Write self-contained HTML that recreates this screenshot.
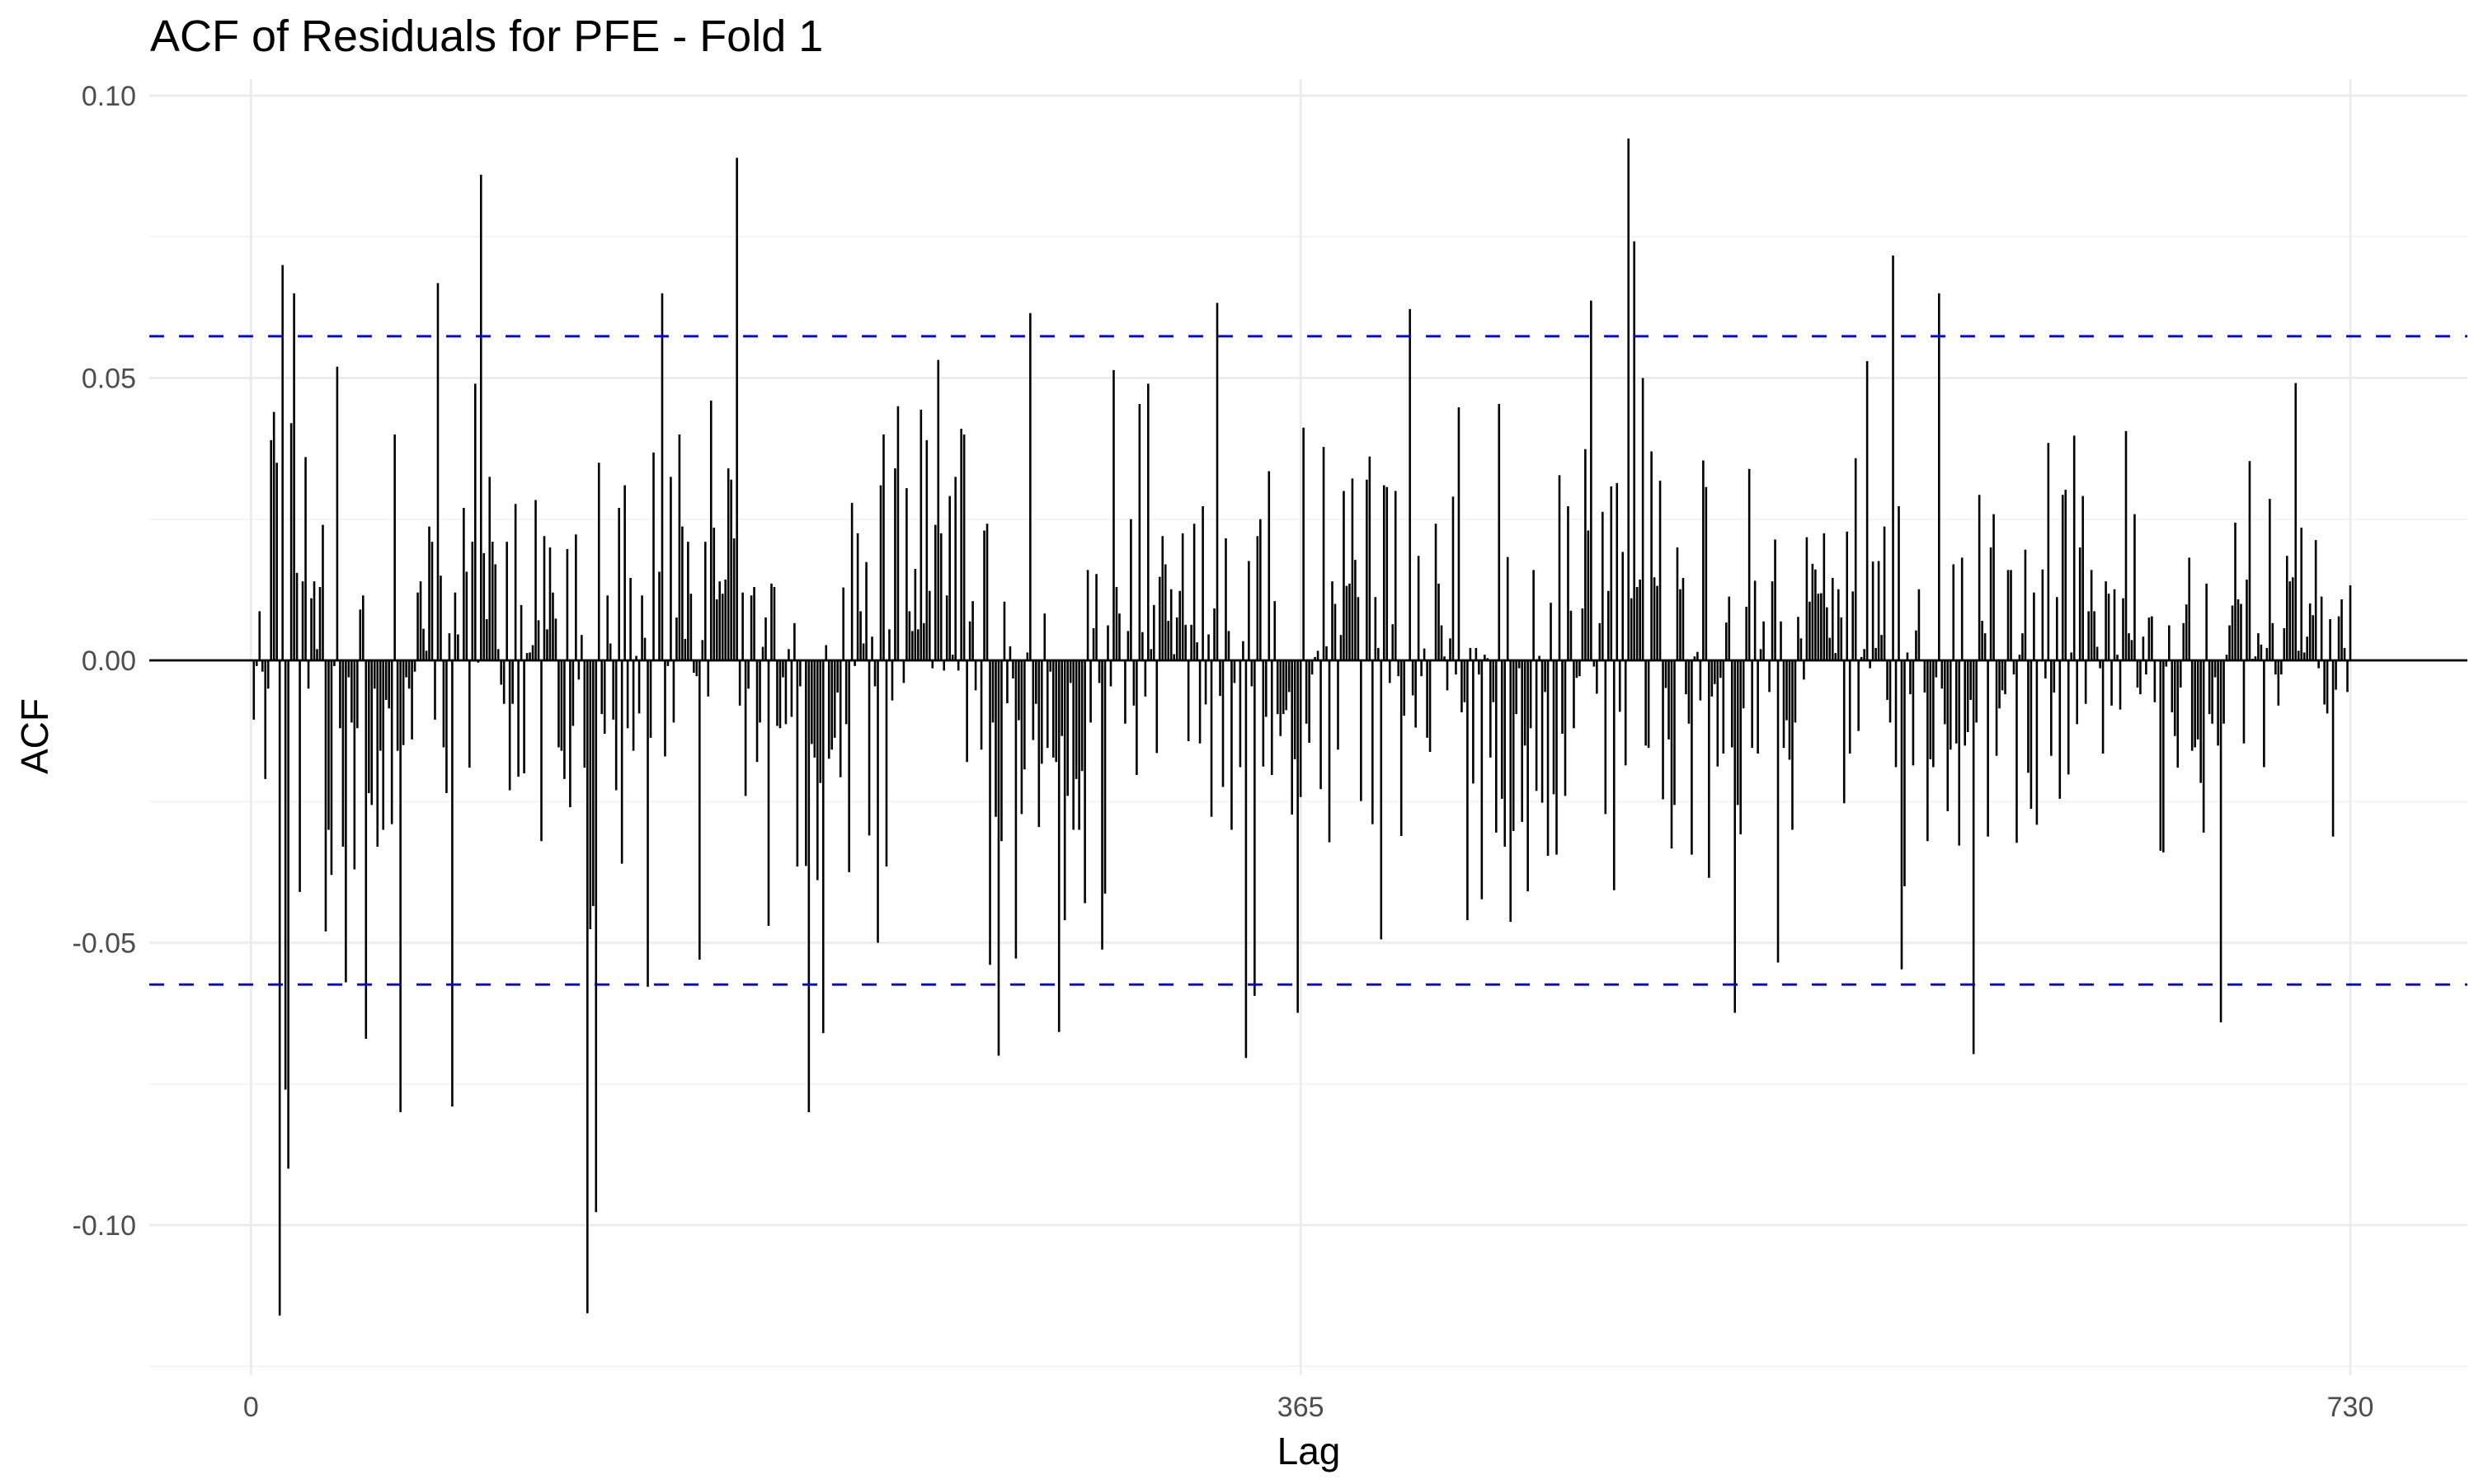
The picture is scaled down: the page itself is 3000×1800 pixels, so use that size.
<!DOCTYPE html>
<html><head><meta charset="utf-8"><style>
html,body{margin:0;padding:0;background:#fff;}
svg{display:block;font-family:"Liberation Sans",Arial,sans-serif;}
</style></head><body>
<svg id="chart" width="3000" height="1800" viewBox="0 0 3000 1800">
<text x="182" y="62" font-size="54" fill="#000">ACF of Residuals for PFE - Fold 1</text>
<g id="grid"></g>
<g id="bars"></g>
<g id="lines"></g>
<g id="axes"></g>
<text x="1587" y="1776" font-size="46" text-anchor="middle" fill="#000">Lag</text>
<text transform="translate(58,893) rotate(-90)" font-size="46" text-anchor="middle" fill="#000">ACF</text>
</svg>
<script>
const acfValues = [
-0.0105,-0.001,0.0087,-0.002,-0.021,-0.005,0.039,0.044,0.035,-0.116,
0.070,-0.076,-0.090,0.042,0.065,0.0155,-0.041,0.014,0.036,-0.005,
0.011,0.014,0.002,0.013,0.024,-0.048,-0.030,-0.038,-0.001,0.052,
-0.012,-0.033,-0.057,-0.003,-0.011,-0.037,-0.012,0.009,0.0115,-0.067,
-0.0235,-0.0256,-0.005,-0.033,-0.016,-0.030,-0.007,-0.0085,-0.029,0.040,
-0.016,-0.080,-0.015,-0.003,-0.005,-0.014,-0.002,0.012,0.014,0.0056,
0.0017,0.0237,0.021,-0.0105,0.0668,0.015,-0.0154,-0.0235,0.0048,-0.079,
0.012,0.0046,0.000,0.027,0.0157,-0.019,0.021,0.049,-0.0004,0.086,
0.019,0.0073,0.0325,0.021,0.017,0.002,-0.0043,-0.0077,0.021,-0.023,
-0.0077,0.0277,-0.0206,0.0098,-0.020,0.0013,0.0014,0.0027,0.0284,0.0071,
-0.032,0.022,0.0055,0.020,0.012,0.0074,-0.0154,-0.016,-0.021,0.0197,
-0.026,-0.0116,0.0223,-0.0034,0.0045,-0.019,-0.1156,-0.0476,-0.0435,-0.0977,
0.035,
-0.0095,-0.013,0.0115,0.003,-0.0105,-0.023,0.027,-0.036,0.031,-0.012,
0.0146,-0.016,0.0008,-0.0094,0.0115,0.004,-0.0578,-0.0137,0.0368,0.000,
0.0157,0.065,-0.017,-0.001,0.0325,-0.011,0.0076,0.040,0.0237,0.0038,
0.021,0.0118,-0.0022,-0.0028,-0.053,0.0036,0.021,-0.0064,0.046,0.0235,
0.0108,0.014,0.0118,0.0143,0.034,0.032,0.0216,0.089,-0.008,0.012,
-0.024,-0.005,0.0115,0.013,-0.018,-0.011,0.0024,0.0076,-0.047,0.0136,
0.013,
-0.0116,-0.012,-0.003,-0.0113,0.002,-0.010,0.0066,-0.0365,-0.0046,0.000,
-0.0364,-0.080,-0.0148,-0.0172,-0.0389,-0.0217,-0.066,0.0027,-0.0174,-0.0158,
-0.0137,-0.0057,-0.0207,0.0129,-0.0113,-0.0375,0.0279,-0.001,0.0225,0.0087,
0.003,0.0174,-0.031,0.0042,-0.0046,-0.050,0.031,0.040,-0.0365,0.0055,
-0.0071,0.034,0.045,0.000,-0.004,0.0305,0.0087,0.0052,0.0162,0.0055,
0.0444,0.0066,0.039,0.0123,-0.0014,0.024,0.0532,0.0225,-0.0018,0.0115,
0.0291,
0.001,
0.0325,-0.0018,0.041,0.040,-0.018,0.0069,0.0105,-0.0053,0.000,-0.0158,
0.023,0.0242,-0.0539,-0.011,-0.0277,-0.070,-0.032,0.0104,-0.0076,0.0025,
-0.0032,-0.0528,-0.0106,-0.0272,-0.0193,0.0014,0.0615,-0.0141,-0.0077,-0.0295,
-0.0183,0.0083,-0.0155,-0.002,-0.0172,-0.018,-0.0658,-0.0134,-0.046,-0.024,
-0.004,-0.030,-0.021,-0.030,-0.0196,-0.043,0.016,-0.011,0.0057,0.0153,
-0.004,-0.0512,-0.0413,0.0062,-0.0046,0.0514,0.013,0.0083,0.000,-0.0112,
0.0052,0.025,
-0.008,-0.0203,0.0454,0.005,-0.0064,0.049,0.002,0.0098,-0.0164,0.0148,
0.022,0.017,0.007,0.0126,0.0011,0.0076,0.0123,0.0225,0.0063,-0.0143,
0.0063,0.0242,0.0032,-0.0147,0.0273,-0.0078,0.0046,-0.0277,0.0092,0.0633,
-0.0063,-0.0224,0.0216,0.0052,-0.030,-0.004,0.000,-0.0189,0.0034,-0.0704,
0.0176,-0.0046,-0.0594,0.022,0.025,-0.0188,-0.010,0.0335,-0.0203,0.0105,
-0.0095,-0.0134,-0.0095,-0.0088,-0.0056,-0.0273,-0.0175,-0.0624,-0.0242,0.0412,
-0.0112,
-0.0146,-0.0025,0.0006,0.0017,-0.0228,0.0378,0.0025,-0.0322,0.014,0.010,
-0.0158,0.0045,0.030,0.0132,0.0136,0.0322,0.0178,0.0112,-0.0249,0.000,
0.032,0.0361,-0.029,0.0112,0.0022,-0.0494,0.031,0.0307,-0.004,0.0064,
0.030,-0.0028,-0.0311,-0.0098,0.000,0.0622,-0.0062,-0.0119,0.0185,-0.0028,
0.0021,-0.0137,-0.0162,0.000,0.0242,0.0136,0.0062,0.0007,-0.0053,0.0039,
0.029,-0.0025,0.0448,-0.0092,-0.0074,-0.046,0.0022,-0.0218,0.0022,-0.0025,
-0.0423,
0.001,
0.0004,-0.0172,-0.0074,-0.0305,0.0454,-0.0245,-0.033,0.0183,-0.0463,-0.0302,
-0.0095,-0.0014,-0.0286,-0.0151,-0.0409,-0.012,0.016,-0.0231,0.0008,-0.0252,
-0.0056,-0.0346,0.0102,-0.0237,-0.0344,0.0328,-0.013,-0.024,0.0273,0.0088,
-0.012,-0.0031,-0.0028,0.0092,0.0374,0.023,0.0637,-0.0011,-0.0059,0.0066,
0.0263,-0.0272,0.0123,0.0308,-0.0407,0.0314,-0.0091,0.0192,-0.0186,0.0924,
0.011,0.0742,0.013,0.0143,0.050,-0.0151,-0.0155,0.037,0.0147,0.0132,
0.0318,-0.0246,
-0.0049,-0.014,-0.0333,-0.0256,0.020,0.0126,0.0146,-0.006,-0.0112,-0.0344,
0.0007,0.0015,-0.0071,0.0354,0.0307,-0.0385,-0.0064,-0.0042,-0.0188,-0.0031,
-0.0165,0.0067,0.0113,-0.0154,-0.0624,-0.0256,-0.0308,-0.0085,0.0095,0.0339,
-0.0155,0.0141,-0.0165,0.002,0.0069,0.000,-0.0056,0.014,0.0214,-0.0535,
0.0069,-0.0155,-0.0106,-0.0176,-0.030,-0.011,0.0077,0.0039,-0.0034,0.0218,
0.0104,0.0171,0.0161,0.0118,0.0119,0.0225,0.0094,0.004,0.0146,0.0013,
0.0126,
0.0076,-0.0253,0.0228,-0.0165,0.0122,0.0358,-0.0125,0.0006,0.002,0.053,
-0.0014,0.0175,0.0022,0.0176,0.0045,0.0237,-0.007,-0.011,0.0717,-0.0189,
0.0273,-0.0547,-0.040,0.0014,-0.006,-0.0186,0.0053,0.0126,0.000,-0.0057,
-0.032,-0.0175,-0.0189,-0.003,0.065,-0.005,-0.0113,-0.0267,-0.0158,0.017,
-0.0147,-0.0328,0.0182,-0.0151,-0.0127,-0.007,-0.0697,-0.011,0.0293,0.007,
0.0048,-0.0312,0.020,0.0259,-0.0169,-0.0085,-0.0053,-0.006,0.016,0.016,
-0.0025,-0.0323,
0.001,
0.0048,0.0196,-0.0199,-0.0263,0.012,-0.0291,0.000,0.0161,-0.0032,0.0385,
-0.0169,-0.0057,0.0112,-0.0245,0.0293,0.0302,-0.0202,0.0014,0.0398,-0.0113,
0.020,0.0291,-0.0077,0.0087,0.016,0.0087,0.0024,-0.0014,-0.0165,0.014,
0.0118,-0.008,0.0126,0.001,-0.0087,0.011,0.0406,0.0048,0.0036,0.0259,
-0.0048,-0.006,0.0042,-0.0025,0.0076,0.0078,-0.0074,0.000,-0.0337,-0.034,
-0.0011,0.0062,-0.0092,-0.0134,-0.019,-0.0048,0.0066,0.0099,0.0182,-0.016,
-0.0154,
-0.014,-0.0217,-0.0305,0.0136,-0.0095,-0.0112,-0.003,-0.0151,-0.0641,-0.0112,
0.001,0.0062,0.0097,0.0244,0.0108,0.010,-0.0147,0.0143,0.0353,0.0003,
0.0007,0.0048,0.0028,-0.0189,0.0022,0.0286,0.0066,-0.0025,-0.008,-0.0025,
0.0057,0.0185,0.014,0.0147,0.0491,0.0017,0.0235,0.0014,0.0042,0.0101,
0.008,0.0213,-0.0014,0.0113,-0.0078,-0.0094,0.0073,-0.0312,-0.0052,0.0078,
0.0108,0.0022,-0.0056,0.0133
];
const xTicks = [0, 365, 730];
const xTickLabels = ["0", "365", "730"];
const yTicks = [0.10, 0.05, 0.00, -0.05, -0.10];
const yTickLabels = ["0.10", "0.05", "0.00", "-0.05", "-0.10"];
const yMinorTicks = [0.075, 0.025, -0.025, -0.075, -0.125];
const confBound = [0.0574];

const NS = "http://www.w3.org/2000/svg";
const PL = 181, PR = 2992;
function xs(l){ return 304.3 + l * (2850 - 304.3) / 730; }
function ys(v){ return 801 - v * 6850; }
function mk(tag, attrs, parent){ const e = document.createElementNS(NS, tag); for (const k in attrs) e.setAttribute(k, attrs[k]); parent.appendChild(e); return e; }

const grid = document.getElementById('grid');
yMinorTicks.forEach(v => {
  const l = mk('line', {x1:PL, x2:PR, y1:ys(v), y2:ys(v), stroke:'#f2f2f2', 'stroke-width':1.6}, grid);
  
  
});
yTicks.forEach(v => {
  const l = mk('line', {x1:PL, x2:PR, y1:ys(v), y2:ys(v), stroke:'#ebebeb', 'stroke-width':2.8}, grid);
  
  
});
xTicks.forEach(v => {
  const l = mk('line', {x1:xs(v), x2:xs(v), y1:96, y2:1668, stroke:'#ebebeb', 'stroke-width':2.8}, grid);
  
  
});

const bars = document.getElementById('bars');
acfValues.forEach((v, i) => {
  const lag = i + 1;
  const b = mk('line', {x1:xs(lag), x2:xs(lag), y1:ys(0), y2:ys(v), stroke:'#000', 'stroke-width':2.6}, bars);
  
  
});

const lines = document.getElementById('lines');
const z = mk('line', {x1:PL, x2:PR, y1:ys(0), y2:ys(0), stroke:'#000', 'stroke-width':2.8}, lines);


[confBound[0], -confBound[0]].forEach(v => {
  const d = mk('line', {x1:PL, x2:PR, y1:ys(v), y2:ys(v), stroke:'#0000ff', 'stroke-width':2.8, 'stroke-dasharray':'18 18'}, lines);
  
  
});

const axes = document.getElementById('axes');
yTicks.forEach((v, i) => {
  const t = mk('text', {x:165, y:ys(v)+12, 'font-size':34, 'text-anchor':'end', fill:'#4d4d4d'}, axes);
  t.textContent = yTickLabels[i];
  
  
});
xTicks.forEach((v, i) => {
  const t = mk('text', {x:xs(v), y:1718, 'font-size':34, 'text-anchor':'middle', fill:'#4d4d4d'}, axes);
  t.textContent = xTickLabels[i];
  
  
});
</script>
</body></html>
